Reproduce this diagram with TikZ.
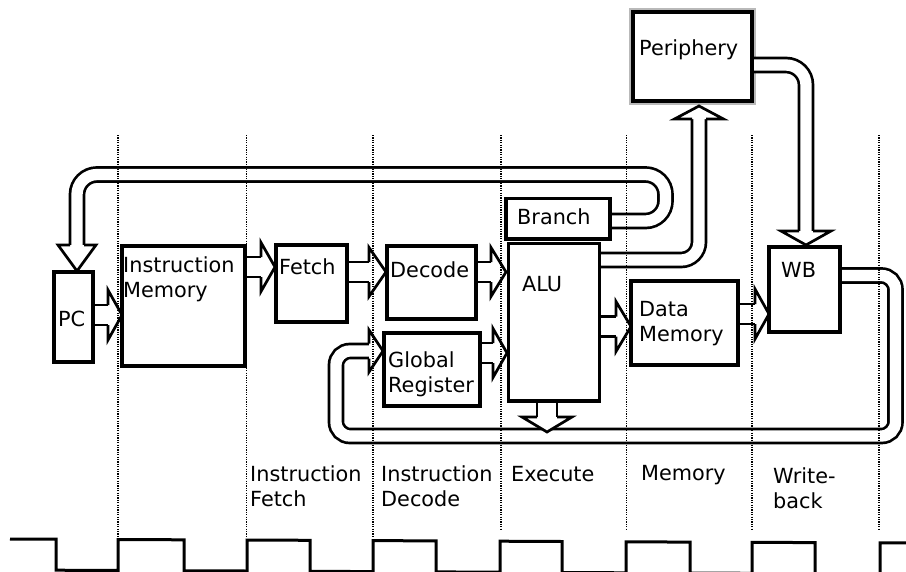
\documentclass[tikz,border=0pt]{standalone}
\usepackage{fontspec}
\setmainfont{DejaVu Sans}
\newcommand\diagfont{\fontsize{20.8}{25}\selectfont}
\pgfdeclarelayer{bg}
\pgfdeclarelayer{mid}
\pgfsetlayers{bg,mid,main}
\tikzset{
  pics/ahead/.style n args={3}{code={
      \fill[white] (0,-#2) -- (#3,0) -- (0,#2) -- cycle;
      \draw[hl] (0,-#1) -- (0,-#2) -- (#3,0) -- (0,#2) -- (0,#1);
  }},
}
\begin{document}
\begin{tikzpicture}[x=1pt,y=-1pt,
  box/.style={draw, line width=3.1pt, fill=white, inner sep=0pt},
  lbl/.style={inner sep=0pt, anchor=base west, align=left, font=\diagfont},
  pipe/.style={draw=black, line width=2.7pt, double=white, double distance=#1},
  hl/.style={line width=2.7pt, line join=miter},
  sep/.style={line width=1.4pt, dash pattern=on 1.1pt off 1.3pt},
  clock/.style={line width=3pt, line join=miter}]
\useasboundingbox (0,0) rectangle (906,571);

% boxes
\node[box, minimum width=39pt,  minimum height=90pt]   (pc)     at (73.5,317)    {};
\node[box, minimum width=123pt, minimum height=120pt]  (imem)   at (183.5,306)   {};
\node[box, minimum width=71pt,  minimum height=77pt]   (fetch)  at (311.5,283.5) {};
\node[box, minimum width=89pt,  minimum height=73pt]   (decode) at (431.5,282.5) {};
\node[box, minimum width=96pt,  minimum height=73pt]   (greg)   at (432,369.5)   {};
\node[box, minimum width=91pt,  minimum height=157.5pt](alu)    at (554,322.25)  {};
\node[box, minimum width=104pt, minimum height=40.5pt] (branch) at (558,218.75)  {};
\node[box, minimum width=107pt, minimum height=84pt]   (dmem)   at (684.5,323)   {};
\node[box, minimum width=71pt,  minimum height=85pt]   (wb)     at (804.5,289.5) {};
\node[box, minimum width=119pt, minimum height=89pt]   (periph) at (692.5,56.5)  {};

% labels (base anchor = baseline of the last line)
\node[lbl] (tpc)     at (58,326)  {PC};
\node[lbl] (timem)   at (123,297) {Instruction\\Memory};
\node[lbl] (tfetch)  at (279,274) {Fetch};
\node[lbl] (tdecode) at (390,277) {Decode};
\node[lbl] (tgreg)   at (388,392) {Global\\Register};
\node[lbl] (talu)    at (522,291) {ALU};
\node[lbl] (tbranch) at (517,224) {Branch};
\node[lbl] (tperiph) at (639,55)  {Periphery};
\node[lbl] (twb)     at (781,277) {WB};
\node[lbl] (tdmem)   at (639,341) {Data\\Memory};
\node[lbl] (sif)  at (250,506) {Instruction\\Fetch};
\node[lbl] (sid)  at (381,506) {Instruction\\Decode};
\node[lbl] (sex)  at (511,481) {Execute};
\node[lbl] (smem) at (641,480) {Memory};
\node[lbl] (swb)  at (773,508) {Write-\\back};

\begin{pgfonlayer}{bg}
  \draw[gray!55, line width=5.5pt] (periph.north west) rectangle (periph.south east);
  % Branch -> PC
  \draw[pipe=11.3, rounded corners=20pt] (branch.east |- 0,221) -- (665.5,221) -- (665.5,174.5) -- (77,174.5) -- (77,245);
  \pic[rotate=-90] at (77,245) {ahead={7}{19}{26}};
  % ALU -> Periphery
  \draw[pipe=11.3, rounded corners=18pt] (alu.east |- 0,260) -- (699,260) -- (699,119);
  \pic[rotate=90] at (699,119) {ahead={7}{24.5}{13}};
  % Periphery -> WB
  \draw[pipe=11.3, rounded corners=20pt] (periph.east |- 0,65) -- (806,65) -- (806,231);
  \pic[rotate=-90] at (806,231) {ahead={7}{25}{14}};
  % WB -> Global Register
  \draw[pipe=11.3, rounded corners=14pt] (wb.east |- 0,275.5) -- (895.5,275.5) -- (895.5,436) -- (336,436) -- (336,351) -- (369,351);
  \pic at (369,351) {ahead={7.5}{21}{14}};
  % straight arrows
  \draw[pipe=17.3] (pc.east |- 0,315) -- (108,315);
  \pic at (108,315) {ahead={10}{25}{14}};
  \draw[pipe=17.3] (imem.east |- 0,267) -- (261,267);
  \pic at (261,267) {ahead={10}{24.5}{14}};
  \draw[pipe=17.3] (fetch.east |- 0,272) -- (369,272);
  \pic at (369,272) {ahead={10}{24.5}{17}};
  \draw[pipe=17.3] (decode.east |- 0,272) -- (491,272);
  \pic at (491,272) {ahead={10}{24.5}{15}};
  \draw[pipe=17.3] (greg.east |- 0,353) -- (493,353);
  \pic at (493,353) {ahead={10}{24.5}{14}};
  \draw[pipe=17.3] (alu.east |- 0,326.5) -- (616,326.5);
  \pic at (616,326.5) {ahead={10}{25}{15}};
  \draw[pipe=17.3] (dmem.east |- 0,314) -- (755,314);
  \pic at (755,314) {ahead={10}{25}{14}};
  \draw[pipe=17.3] (alu.south -| 547,0) -- (547,417);
  \pic[rotate=-90] at (547,417) {ahead={10}{25}{15}};
\end{pgfonlayer}

\begin{pgfonlayer}{mid}
  \foreach \x/\yb in {118/538,246.5/538,373/537,501/529,626.5/529,752/529,879/529}
    \draw[sep] (\x,135) -- (\x,\yb);
\end{pgfonlayer}

% clock
\draw[clock] (10,539) -- (56,539.2) -- (56,570.2) -- (118,570.5) -- (118,539.5) -- (184,539.8)
  -- (184,570.8) -- (247,571) -- (247,540) -- (310,540.3) -- (310,571.3) -- (373,571.6)
  -- (373,540.6) -- (436,540.9) -- (436,571.9) -- (500,572.2) -- (500,541.2) -- (562,541.5)
  -- (562,572.5) -- (626,572.8) -- (626,541.8) -- (690,542.1) -- (690,573) -- (752,573.3)
  -- (752,542.3) -- (815,542.6) -- (815,573.6) -- (880,573.9) -- (880,542.9) -- (910,543);
\end{tikzpicture}
\end{document}
